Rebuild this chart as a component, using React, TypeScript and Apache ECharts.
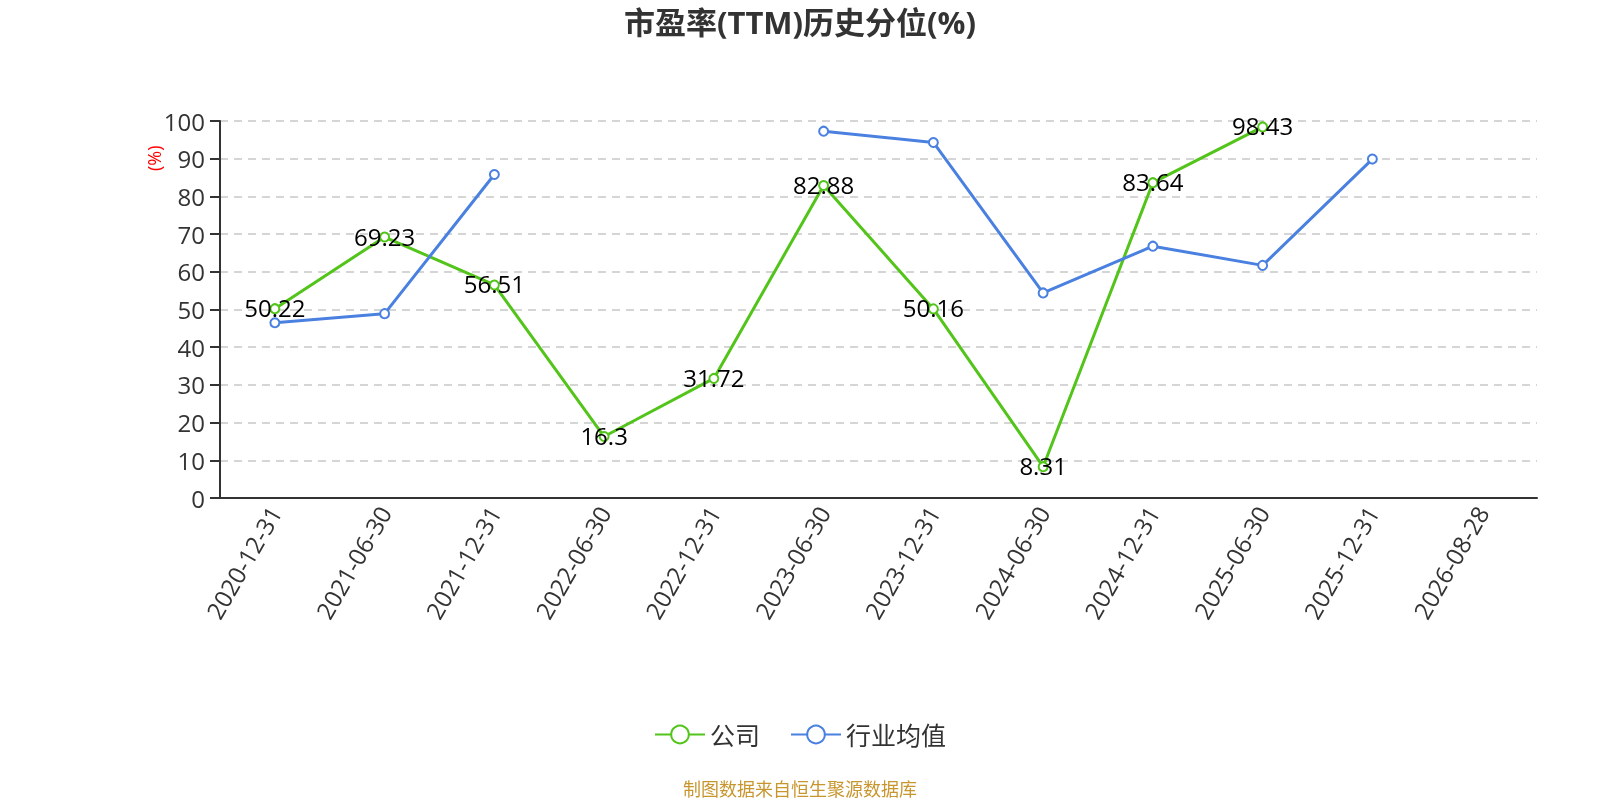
import React, { useEffect, useRef } from "react";
import * as echarts from "echarts";

const categories = [
  "2020-12-31", "2021-06-30", "2021-12-31", "2022-06-30", "2022-12-31", "2023-06-30",
  "2023-12-31", "2024-06-30", "2024-12-31", "2025-06-30", "2025-12-31", "2026-08-28",
];
const companyValues: (number | null)[] = [50.22, 69.23, 56.51, 16.3, 31.72, 82.88, 50.16, 8.31, 83.64, 98.43, null, null];
const industryValues: (number | null)[] = [46.5, 48.9, 85.8, null, null, 97.3, 94.3, 54.4, 66.8, 61.7, 89.9, null];
const yTicks = { min: 0, max: 100, interval: 10 };

export default function App() {
  const ref = useRef<HTMLDivElement>(null);
  useEffect(() => {
    if (!ref.current) return;
    const chart = echarts.init(ref.current, null, { renderer: "svg" });
    const font = "'Open Sans', 'Noto Sans CJK SC', sans-serif";
    chart.setOption({
      animation: false,
      textStyle: { fontFamily: font },
      title: {
        text: "市盈率(TTM)历史分位(%)",
        left: "center",
        top: 1,
        textStyle: { fontSize: 31, fontWeight: "bold", color: "#333", fontFamily: font },
      },
      grid: { left: 220, right: 63, top: 121, bottom: 302, containLabel: false },
      legend: {
        top: 717,
        left: "center",
        itemWidth: 50,
        itemHeight: 22,
        itemGap: 30,
        textStyle: { fontSize: 25, color: "#333" },
        data: ["公司", "行业均值"],
      },
      graphic: [
        {
          type: "text",
          x: 145,
          y: 171,
          rotation: Math.PI / 2,
          style: { text: "(%)", fill: "#ff0000", fontSize: 18, fontFamily: font },
        },
        {
          type: "text",
          left: "center",
          top: 780,
          style: { text: "制图数据来自恒生聚源数据库", fill: "#c8962e", fontSize: 18, fontFamily: font },
        },
      ],
      xAxis: {
        type: "category",
        data: categories,
        boundaryGap: true,
        axisLine: { lineStyle: { color: "#333", width: 2 } },
        axisTick: { alignWithLabel: false, length: 8, lineStyle: { color: "#333", width: 2 } },
        axisLabel: { rotate: 60, fontSize: 24, color: "#333", margin: 10, interval: 0 },
      },
      yAxis: {
        type: "value",
        min: yTicks.min,
        max: yTicks.max,
        interval: yTicks.interval,
        axisLine: { show: true, lineStyle: { color: "#333", width: 2 } },
        axisTick: { show: true, length: 10, lineStyle: { color: "#333", width: 2 } },
        axisLabel: { fontSize: 24, color: "#333", margin: 15 },
        splitLine: { lineStyle: { type: [8, 6], color: "#c8c8c8", width: 1.5 } },
      },
      series: [
        {
          name: "公司",
          type: "line",
          data: companyValues,
          color: "#52c41a",
          symbol: "emptyCircle",
          symbolSize: 9,
          lineStyle: { width: 3 },
          label: { show: true, position: "inside", fontSize: 24, color: "#000", offset: [0, -1] },
        },
        {
          name: "行业均值",
          type: "line",
          data: industryValues,
          color: "#4a80e0",
          symbol: "emptyCircle",
          symbolSize: 9,
          lineStyle: { width: 3 },
        },
      ],
    });
    return () => chart.dispose();
  }, []);
  return <div ref={ref} style={{ position: "fixed", left: 0, top: 0, width: 1600, height: 800 }} />;
}
